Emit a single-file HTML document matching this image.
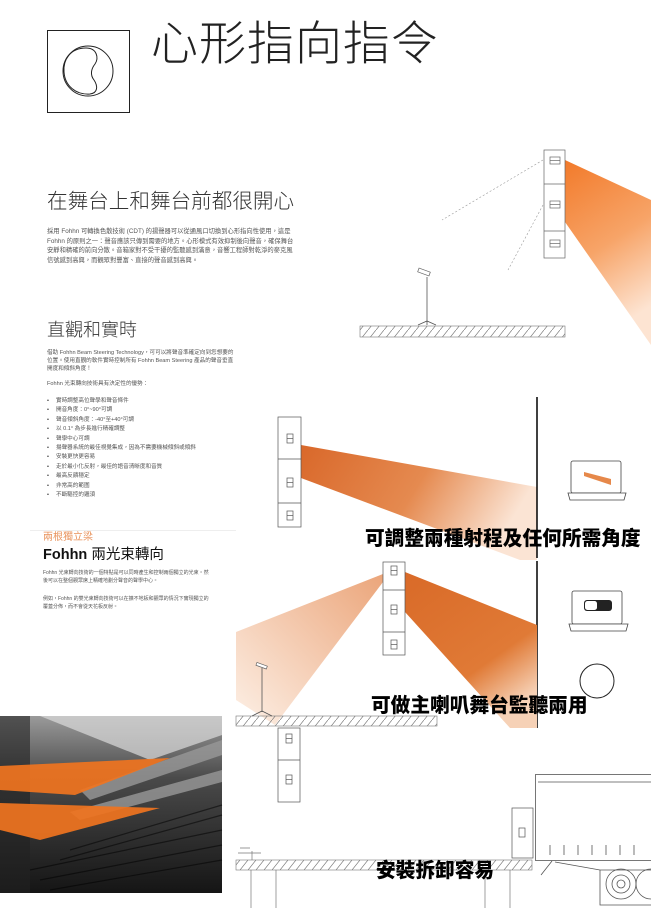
<!DOCTYPE html>
<html><head><meta charset="utf-8">
<style>
*{margin:0;padding:0;box-sizing:border-box}
body{width:651px;height:908px;position:relative;background:#fff;overflow:hidden;font-family:"Liberation Sans","Noto Sans CJK TC",sans-serif;color:#222}
.a{position:absolute;white-space:nowrap}
.p{font-size:6.3px;line-height:9.5px;color:#555}
.b{font-weight:900;font-size:19.7px;color:#000;font-family:"Liberation Sans","Noto Sans CJK TC",sans-serif}
ul{list-style:none}
li{font-size:5.6px;line-height:9.4px;color:#555}
li:before{content:"•";margin-right:7px;color:#333}
</style></head><body>
<svg class="a" style="left:0;top:0" width="651" height="908">
<defs>
<linearGradient id="g1" x1="0" y1="0" x2="0.3" y2="1"><stop offset="0" stop-color="#f27a2a"/><stop offset="0.55" stop-color="#f7a468"/><stop offset="1" stop-color="#fde4d2"/></linearGradient>
<linearGradient id="g2" x1="0" y1="0" x2="1" y2="0.3"><stop offset="0" stop-color="#d9682a"/><stop offset="0.55" stop-color="#e58a50"/><stop offset="1" stop-color="#fbe4d4"/></linearGradient>
<linearGradient id="g3" x1="0" y1="0" x2="0.6" y2="1"><stop offset="0" stop-color="#d96a28"/><stop offset="0.7" stop-color="#e07a36"/><stop offset="1" stop-color="#f6d1b6"/></linearGradient>
<linearGradient id="g4" x1="1" y1="0" x2="0" y2="1"><stop offset="0" stop-color="#eba57a"/><stop offset="1" stop-color="#fdf0e6"/></linearGradient>
<pattern id="h" width="8" height="10" patternUnits="userSpaceOnUse"><path d="M0 10 L8 0" stroke="#777" stroke-width="0.7"/></pattern>
<linearGradient id="ph" x1="0" y1="0" x2="0" y2="1"><stop offset="0" stop-color="#9a9a9a"/><stop offset="0.35" stop-color="#4a4a4a"/><stop offset="1" stop-color="#151515"/></linearGradient>
</defs>
<rect x="47.5" y="30.5" width="82" height="82" fill="none" stroke="#222" stroke-width="1"/>
<circle cx="88" cy="71" r="25" fill="none" stroke="#222"/>
<path d="M86 48 C70 48 63 60 64 72 C65 86 76 95 90 94 C98 93 98 86 94 80 C90 75 91 69 95 64 C99 58 97 48 86 48Z" fill="none" stroke="#222"/>
<polygon points="565,160 651,200 651,345 565,222" fill="url(#g1)"/>
<line x1="543" y1="160" x2="442" y2="220" stroke="#999" stroke-dasharray="2,2" stroke-width="0.6"/>
<line x1="543" y1="205" x2="508" y2="270" stroke="#999" stroke-dasharray="2,2" stroke-width="0.6"/>
<g stroke="#666" fill="#fff" stroke-width="0.7">
<rect x="544" y="150" width="21" height="108"/><line x1="544" y1="184" x2="565" y2="184"/><line x1="544" y1="231" x2="565" y2="231"/>
<rect x="550" y="157" width="10" height="7"/><line x1="550" y1="160.5" x2="560" y2="160.5"/>
<rect x="550" y="201" width="10" height="7"/><line x1="550" y1="204.5" x2="560" y2="204.5"/>
<rect x="550" y="240" width="10" height="7"/><line x1="550" y1="243.5" x2="560" y2="243.5"/>
</g>
<rect x="360" y="326" width="205" height="11" fill="url(#h)" stroke="#777" stroke-width="0.6"/>
<path d="M427 277 V325 M418 325 L427 321 L436 325" stroke="#555" fill="none" stroke-width="0.8"/>
<rect x="418" y="270" width="12" height="4" fill="#fff" stroke="#666" stroke-width="0.7" transform="rotate(20 424 272)"/>
<polygon points="301,445 537,487 537,560 520,560 301,478" fill="url(#g2)"/>
<g stroke="#555" fill="#fff" stroke-width="0.7">
<rect x="278" y="417" width="23" height="110"/><line x1="278" y1="459" x2="301" y2="459"/><line x1="278" y1="503" x2="301" y2="503"/>
<rect x="287" y="434" width="6" height="9"/><line x1="287" y1="438.5" x2="293" y2="438.5"/>
<rect x="287" y="478" width="6" height="9"/><line x1="287" y1="482.5" x2="293" y2="482.5"/>
<rect x="287" y="511" width="6" height="9"/><line x1="287" y1="515.5" x2="293" y2="515.5"/>
</g>
<line x1="537" y1="397" x2="537" y2="558" stroke="#000" stroke-width="1.5"/>
<line x1="537" y1="561" x2="537" y2="728" stroke="#000" stroke-width="1.5"/>
<g stroke="#444" fill="#fff" stroke-width="0.8">
<rect x="571" y="461" width="50" height="32" rx="2"/><path d="M568 493 H626 L624 500 H570Z"/>
</g>
<polygon points="584,472 611,479 611,485 584,476" fill="#e6884a"/>
<polygon points="383,574 236,632 236,700 275,725 383,582" fill="url(#g4)"/>
<polygon points="405,572 537,625 537,728 510,728 405,612" fill="url(#g3)"/>
<g stroke="#555" fill="#fff" stroke-width="0.7">
<rect x="383" y="562" width="22" height="93"/><line x1="383" y1="590" x2="405" y2="590"/><line x1="383" y1="632" x2="405" y2="632"/>
<rect x="391" y="566" width="6" height="9"/><line x1="391" y1="570.5" x2="397" y2="570.5"/>
<rect x="391" y="605" width="6" height="9"/><line x1="391" y1="609.5" x2="397" y2="609.5"/>
<rect x="391" y="640" width="6" height="9"/><line x1="391" y1="644.5" x2="397" y2="644.5"/>
</g>
<g stroke="#444" fill="#fff" stroke-width="0.8">
<rect x="572" y="591" width="50" height="33" rx="2"/><path d="M569 624 H628 L626 631 H571Z"/>
</g>
<rect x="584" y="600" width="28" height="11" rx="3" fill="#222"/><rect x="585" y="601" width="12" height="9" rx="2.5" fill="#fff"/>
<circle cx="597" cy="681" r="17" fill="#fff" stroke="#222" stroke-width="1"/>
<rect x="236" y="716" width="201" height="10" fill="url(#h)" stroke="#777" stroke-width="0.6"/>
<path d="M262 668 V712 M252 716 L262 711 L272 716" stroke="#555" fill="none" stroke-width="0.8"/>
<rect x="256" y="664" width="11" height="3" fill="#fff" stroke="#666" stroke-width="0.7" transform="rotate(20 261 666)"/>
<rect x="0" y="716" width="222" height="177" fill="url(#ph)"/>
<polygon points="40,716 222,716 222,735 150,760" fill="#dcdcdc" opacity="0.7"/>
<rect x="0" y="716" width="30" height="177" fill="#222" opacity="0.6"/>
<g fill="#999" opacity="0.8"><polygon points="80,790 222,740 222,755 90,800"/><polygon points="70,812 222,770 222,782 80,820"/></g>
<g stroke="#000" stroke-width="1.2" opacity="0.5"><line x1="30" y1="870" x2="222" y2="830"/><line x1="40" y1="880" x2="222" y2="845"/><line x1="50" y1="890" x2="222" y2="860"/><line x1="60" y1="860" x2="222" y2="815"/><line x1="70" y1="850" x2="222" y2="805"/></g>
<polygon points="0,766 170,758 75,795 0,790" fill="#f0741f" opacity="0.92"/>
<polygon points="0,803 160,808 40,840 0,830" fill="#f0741f" opacity="0.92"/>
<g stroke="#555" fill="#fff" stroke-width="0.7">
<rect x="278" y="728" width="22" height="74"/><line x1="278" y1="760" x2="300" y2="760"/>
<rect x="286" y="734" width="6" height="9"/><line x1="286" y1="738.5" x2="292" y2="738.5"/>
<rect x="286" y="775" width="6" height="9"/><line x1="286" y1="779.5" x2="292" y2="779.5"/>
<rect x="512" y="808" width="21" height="50"/><rect x="519" y="828" width="6" height="9"/>
</g>
<rect x="236" y="860" width="296" height="10" fill="url(#h)" stroke="#777" stroke-width="0.6"/>
<g stroke="#777" stroke-width="0.7"><line x1="251" y1="870" x2="251" y2="908"/><line x1="276" y1="870" x2="276" y2="908"/><line x1="485" y1="870" x2="485" y2="908"/><line x1="510" y1="870" x2="510" y2="908"/>
<path d="M238 853 H261 M240 848 H250 M252 851 V860" /></g>
<g stroke="#555" fill="none" stroke-width="0.8">
<rect x="535.5" y="774.5" width="120" height="86" fill="#fff"/>
<line x1="538" y1="782" x2="651" y2="782"/>
<path d="M550 845 v10 M564 845 v10 M578 845 v10 M592 845 v10 M606 845 v10 M620 845 v10 M634 845 v10"/>
<path d="M552 861 L541 875 M555 862 L600 870 H651"/>
<path d="M600 870 V905 H651"/>
<circle cx="621" cy="884" r="15"/><circle cx="621" cy="884" r="9"/><circle cx="621" cy="884" r="4"/>
<circle cx="651" cy="884" r="15"/>
</g>
</svg>

<div class="a" style="left:151px;top:14px;font-size:47px;font-weight:300;letter-spacing:1px;line-height:60px">心形指向指令</div>

<div class="a" style="left:47px;top:189px;font-size:20.6px;font-weight:300;line-height:26px;color:#333">在舞台上和舞台前都很開心</div>
<div class="a p" style="left:47px;top:227px">採用 Fohhn 可轉換色散技術 (CDT) 的揚聲器可以從通風口切換到心形指向性使用，這是<br>Fohhn 的原則之一：聲音應該只傳到需要的地方。心形模式有效抑制後向聲音，確保舞台<br>安靜和精確的前向分散。音箱家對不受干擾的監聽感到滿意，音響工程師對乾淨的麥克風<br>信號感到高興，而觀眾對豐富、直接的聲音感到高興。</div>

<div class="a" style="left:47px;top:318px;font-size:18px;font-weight:300;line-height:24px;color:#333">直觀和實時</div>
<div class="a p" style="left:47px;top:349px;font-size:5.6px;line-height:8px">借助 Fohhn Beam Steering Technology，可可以將聲音準確定向到您想要的<br>位置。使用直觀的軟件實時控制所有 Fohhn Beam Steering 產品的聲音垂直<br>開度和傾斜角度！</div>
<div class="a p" style="left:47px;top:380px;font-size:5.6px">Fohhn 光束轉向技術具有決定性的優勢：</div>
<ul class="a" style="left:47px;top:397px">
<li>實時調整高位聲學和聲音條件</li><li>開音角度：0°~90°可調</li><li>聲音傾斜角度：-40°至+40°可調</li><li>以 0.1° 為步長進行精確調整</li><li>聲學中心可調</li><li>揚聲器系統的最佳視覺集成，因為不需要機械傾斜或傾斜</li><li>安裝更快更容易</li><li>走於最小化反射，最佳的語音清晰度和音質</li><li>最高反饋穩定</li><li>非常高的範圍</li><li>不斷驅控的邏須</li>
</ul>

<div class="a" style="left:30px;top:530px;width:206px;height:1px;background:#eee"></div>
<div class="a" style="left:43px;top:531px;font-size:10px;color:#e8915a;line-height:14px">兩根獨立梁</div>
<div class="a" style="left:43px;top:545px;font-size:14.5px;font-weight:bold;line-height:20px;color:#111">Fohhn <span style="font-weight:normal">兩光束轉向</span></div>
<div class="a p" style="left:43px;top:570px;font-size:5px;line-height:7.5px">Fohhn 光束轉向技術的一個特點是可以同時產生和控制兩個獨立的光束。然<br>後可以在整個觀眾席上精確地劃分聲音的聲學中心。</div>
<div class="a p" style="left:43px;top:596px;font-size:5px;line-height:7.5px">例如，Fohhn 的雙光束轉向技術可以在擴不地板和觀眾的情況下實現獨立的<br>覆蓋分佈，而不會從天花板反射。</div>

<div class="a b" style="left:365px;top:526px;line-height:26px">可調整兩種射程及任何所需角度</div>
<div class="a b" style="left:371px;top:693px;line-height:26px">可做主喇叭舞台監聽兩用</div>
<div class="a b" style="left:376px;top:858px;line-height:26px">安裝拆卸容易</div>
</body></html>
